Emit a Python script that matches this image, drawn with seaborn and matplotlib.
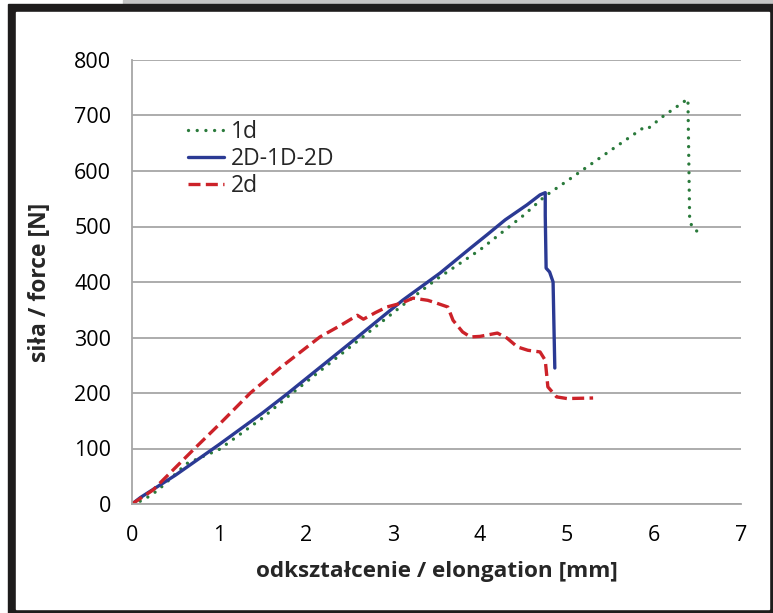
import matplotlib
matplotlib.use("Agg")
import matplotlib.pyplot as plt
from matplotlib.patches import Rectangle
import seaborn as sns

# ── Data ────────────────────────────────────────────────────────────────────
x_1d = [0, 0.13, 0.3, 0.63, 1.0, 1.5, 1.78, 2.5, 3.11, 3.5, 4.0, 4.5, 4.75,
        5.0, 5.5, 5.87, 5.92, 6.1, 6.39, 6.40, 6.41, 6.45, 6.55]
y_1d = [0, 7, 25, 73, 98, 155, 192, 282, 358, 405, 458, 520, 555,
        582, 637, 677, 675, 698, 730, 620, 510, 496, 486]

x_2d1d = [0, 0.1, 0.5, 1.0, 1.5, 1.78, 2.5, 3.11, 3.54, 3.89, 4.08, 4.29, 4.54,
          4.69, 4.75, 4.75, 4.76, 4.80, 4.84, 4.85, 4.86]
y_2d1d = [0, 12, 52, 107, 164, 198, 289, 367, 416, 461, 485, 512, 539,
          557, 561, 520, 425, 418, 400, 320, 245]

x_2d = [0, 0.24, 0.7, 1.0, 1.36, 1.7, 2.16, 2.4, 2.59, 2.66, 2.8, 2.93, 3.1,
        3.23, 3.4, 3.5, 3.63, 3.69, 3.8, 3.89, 4.0, 4.2, 4.31, 4.43, 4.55,
        4.69, 4.75, 4.78, 4.88, 5.0, 5.3]
y_2d = [0, 25, 97, 143, 200, 245, 301, 322, 340, 333, 345, 355, 362,
        371, 367, 362, 355, 331, 310, 301, 302, 308, 299, 283, 277,
        274, 259, 211, 193, 190, 191]

x_ticks = list(range(0, 8))
y_ticks = list(range(0, 900, 100))

GREEN = "#2a7a3b"
BLUE = "#2b3a94"
RED = "#cc2229"
GRID = "#a6a6a6"

# ── Figure ──────────────────────────────────────────────────────────────────
sns.set_theme(style="white")
plt.rcParams["font.family"] = ["Open Sans", "DejaVu Sans"]

fig = plt.figure(figsize=(7.73, 6.13), dpi=100)
fig.patch.set_facecolor("white")

# outer frame of the scanned figure
fig.patches.append(Rectangle((123 / 773, 609 / 613), 650 / 773, 4 / 613,
                             transform=fig.transFigure, color="#c4c4c4", zorder=-20))
fig.patches.append(Rectangle((8 / 773, 0), 765 / 773, 609 / 613,
                             transform=fig.transFigure, color="#1e1c1c", zorder=-20))
fig.patches.append(Rectangle((16 / 773, 4 / 613), 753 / 773, 597 / 613,
                             transform=fig.transFigure, color="white", zorder=-19))

ax = fig.add_axes([132 / 773, 109 / 613, 609 / 773, 444 / 613])
ax.set_facecolor("none")

sns.lineplot(x=x_1d, y=y_1d, ax=ax, sort=False, estimator=None, color=GREEN,
             lw=2.4, label="1d", linestyle=(0, (0.01, 2.6)),
             dash_capstyle="round")
sns.lineplot(x=x_2d1d, y=y_2d1d, ax=ax, sort=False, estimator=None, color=BLUE,
             lw=2.4, label="2D-1D-2D")
sns.lineplot(x=x_2d, y=y_2d, ax=ax, sort=False, estimator=None, color=RED,
             lw=2.4, label="2d", linestyle=(0, (3.6, 1.6)))

ax.set_xlim(0, 7)
ax.set_ylim(0, 800)
ax.set_xticks(x_ticks)
ax.set_yticks(y_ticks)
ax.set_xticklabels([str(v) for v in x_ticks])
ax.set_yticklabels([str(v) for v in y_ticks])
ax.tick_params(axis="both", length=0, labelsize=15.5, colors="black")
ax.tick_params(axis="x", pad=15)
ax.tick_params(axis="y", pad=15)

ax.yaxis.grid(True, color=GRID, lw=1.3)
ax.xaxis.grid(False)
ax.set_axisbelow(True)
for side in ["top", "right"]:
    ax.spines[side].set_visible(False)
for side in ["left", "bottom"]:
    ax.spines[side].set_color(GRID)
    ax.spines[side].set_linewidth(1.3)

ax.set_xlabel("odkształcenie / elongation [mm]", fontsize=16.2, fontweight="bold",
              labelpad=11)
ax.set_ylabel("siła / force [N]", fontsize=16.5, fontweight="bold", labelpad=16)

leg = ax.legend(loc="upper left", bbox_to_anchor=(0.077, 0.885), frameon=False,
                fontsize=16.5, handlelength=1.55, handletextpad=0.3,
                labelspacing=0.12, borderaxespad=0)

fig.savefig("out.png", dpi=100)
